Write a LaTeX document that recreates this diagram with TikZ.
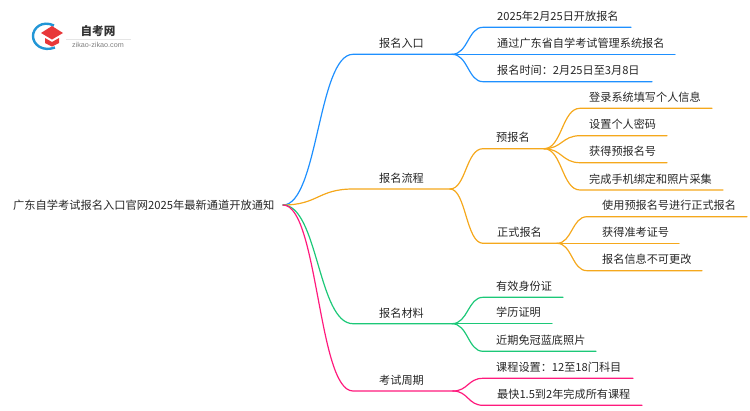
\documentclass[tikz,border=0pt]{standalone}
\usepackage{fontspec}
\setmainfont{Noto Sans CJK SC}
\newfontfamily\logofont{Liberation Sans}
\usetikzlibrary{calc}
\definecolor{entryblue}{HTML}{1E90FF}
\definecolor{floworange}{HTML}{F5A81C}
\definecolor{docgreen}{HTML}{1CC878}
\definecolor{cyclepink}{HTML}{FF1A7D}
\definecolor{logored}{HTML}{E8383A}
\definecolor{logoblue}{HTML}{2296D6}
\tikzset{
    my-title/.style={anchor=base west, inner sep=0, text=black!85, font=\fontsize{11.25}{14}\selectfont},
    my-label/.style={anchor=base west, inner sep=0, text=black!85, font=\fontsize{11.15}{13}\selectfont},
    my-wire/.style={line width=1.2pt, line cap=round},
}

\begin{document}
\begin{tikzpicture}[x=1pt, y=-1pt]
        \useasboundingbox (0,0) rectangle (750,410);

        % LOGO
        \draw[logoblue, line width=2.4pt] (54,25.5) .. controls (42,20) and (33,28) .. (33,36) .. controls (33,45) and (43,52) .. (55,47.5);
        \fill[logored] (41,33) -- (52,26) -- (63,33) -- (52,39.5) -- cycle;
        \fill[logored] (45,38) -- (52,42) -- (59,38) -- (59,43) -- (52,46.5) -- (45,43) -- cycle;
        \node[anchor=center, inner sep=0, text=black!80, font=\fontsize{11.6}{13}\selectfont\bfseries] (LOGOTEXT) at (98,31) {自考网};
        \node[anchor=center, inner sep=0, text=black!50, font=\logofont\fontsize{7.2}{9}\selectfont] (LOGOURL) at (98,45) {zikao-zikao.com};
        \draw[black!10, line width=.6pt] (66,39) -- (131,39);

        % ROOT
        \node[my-title] (ROOT) at (13,209) {广东自学考试报名入口官网2025年最新通道开放通知};
        \coordinate[] (FORK) at (283,205);

        % FIRST LEVEL
        \node[my-label] (ENTRY) at (379,47)  {报名入口};
        \node[my-label] (FLOW)  at (379,182) {报名流程};
        \node[my-label] (DOCS)  at (379,317) {报名材料};
        \node[my-label] (CYCLE) at (379,384) {考试周期};
        \coordinate[] (ENTRYIN)  at (353,54.3);
        \coordinate[] (ENTRYOUT) at (452,54.3);
        \coordinate[] (FLOWIN)   at (353,189);
        \coordinate[] (FLOWOUT)  at (450,189);
        \coordinate[] (DOCSIN)   at (353,323.7);
        \coordinate[] (DOCSOUT)  at (452,323.7);
        \coordinate[] (CYCLEIN)  at (353,391);
        \coordinate[] (CYCLEOUT) at (453,391);

        % ENTRY LEAVES
        \node[my-label] (ENTRYA) at (497,20.3) {2025年2月25日开放报名};
        \node[my-label] (ENTRYB) at (497,47.3) {通过广东省自学考试管理系统报名};
        \node[my-label] (ENTRYC) at (497,74.7) {报名时间：2月25日至3月8日};

        % FLOW SECOND LEVEL
        \node[my-label] (PRE)  at (496,141.7) {预报名};
        \node[my-label] (REAL) at (497,236.3) {正式报名};
        \coordinate[] (PREIN)   at (483,148.7);
        \coordinate[] (PREOUT)  at (544,148.7);
        \coordinate[] (REALIN)  at (483,243.3);
        \coordinate[] (REALOUT) at (557,243.3);

        % PRE LEAVES
        \node[my-label] (PREA) at (589,101.3) {登录系统填写个人信息};
        \node[my-label] (PREB) at (589,128.7) {设置个人密码};
        \node[my-label] (PREC) at (589,155.7) {获得预报名号};
        \node[my-label] (PRED) at (589,183)   {完成手机绑定和照片采集};

        % REAL LEAVES
        \node[my-label] (REALA) at (602,209.7) {使用预报名号进行正式报名};
        \node[my-label] (REALB) at (602,236.3) {获得准考证号};
        \node[my-label] (REALC) at (602,263.7) {报名信息不可更改};

        % DOCS LEAVES
        \node[my-label] (DOCSA) at (496,290.3) {有效身份证};
        \node[my-label] (DOCSB) at (496,316.7) {学历证明};
        \node[my-label] (DOCSC) at (496,344.3) {近期免冠蓝底照片};

        % CYCLE LEAVES
        \node[my-label] (CYCLEA) at (496,371.3) {课程设置：12至18门科目};
        \node[my-label] (CYCLEB) at (497,398.3) {最快1.5到2年完成所有课程};

        % ROOT CONNECTIONS
        \draw[my-wire, entryblue]  (FORK) .. controls (318,205) and (318,54.3)  .. (ENTRYIN) -- (ENTRYOUT);
        \draw[my-wire, floworange] (FORK) .. controls (318,205) and (318,189)   .. (FLOWIN) -- (FLOWOUT);
        \draw[my-wire, docgreen]   (FORK) .. controls (318,205) and (318,323.7) .. (DOCSIN) -- (DOCSOUT);
        \draw[my-wire, cyclepink]  (FORK) .. controls (318,205) and (318,391)   .. (CYCLEIN) -- (CYCLEOUT);

        % ENTRY CONNECTIONS
        \draw[my-wire, entryblue] (ENTRYOUT) .. controls (468,54.3) and (468,27.3) .. (483,27.3) -- (631,27.3);
        \draw[my-wire, entryblue] (ENTRYOUT) -- (675,54.3);
        \draw[my-wire, entryblue] (ENTRYOUT) .. controls (468,54.3) and (468,81.7) .. (483,81.7) -- (652,81.7);

        % FLOW CONNECTIONS
        \draw[my-wire, floworange] (FLOWOUT) .. controls (466,189) and (466,148.7) .. (PREIN) -- (PREOUT);
        \draw[my-wire, floworange] (FLOWOUT) .. controls (466,189) and (466,243.3) .. (REALIN) -- (REALOUT);
        \draw[my-wire, floworange] (PREOUT) .. controls (562,148.7) and (562,108.3) .. (580,108.3) -- (712,108.3);
        \draw[my-wire, floworange] (PREOUT) .. controls (562,148.7) and (562,135.7) .. (580,135.7) -- (667,135.7);
        \draw[my-wire, floworange] (PREOUT) .. controls (562,148.7) and (562,162.7) .. (580,162.7) -- (667,162.7);
        \draw[my-wire, floworange] (PREOUT) .. controls (562,148.7) and (562,190)   .. (580,190)   -- (723,190);
        \draw[my-wire, floworange] (REALOUT) .. controls (572,243.3) and (572,216.7) .. (587,216.7) -- (747,216.7);
        \draw[my-wire, floworange] (REALOUT) -- (679,243.3);
        \draw[my-wire, floworange] (REALOUT) .. controls (572,243.3) and (572,270.7) .. (587,270.7) -- (702,270.7);

        % DOCS CONNECTIONS
        \draw[my-wire, docgreen] (DOCSOUT) .. controls (468,323.7) and (468,297.3) .. (483,297.3) -- (563,297.3);
        \draw[my-wire, docgreen] (DOCSOUT) -- (552,323.7);
        \draw[my-wire, docgreen] (DOCSOUT) .. controls (468,323.7) and (468,351.3) .. (483,351.3) -- (596,351.3);

        % CYCLE CONNECTIONS
        \draw[my-wire, cyclepink] (CYCLEOUT) .. controls (468,391) and (468,378.3) .. (483,378.3) -- (633,378.3);
        \draw[my-wire, cyclepink] (CYCLEOUT) .. controls (468,391) and (468,405.3) .. (483,405.3) -- (642,405.3);

    \end{tikzpicture}
\end{document}
